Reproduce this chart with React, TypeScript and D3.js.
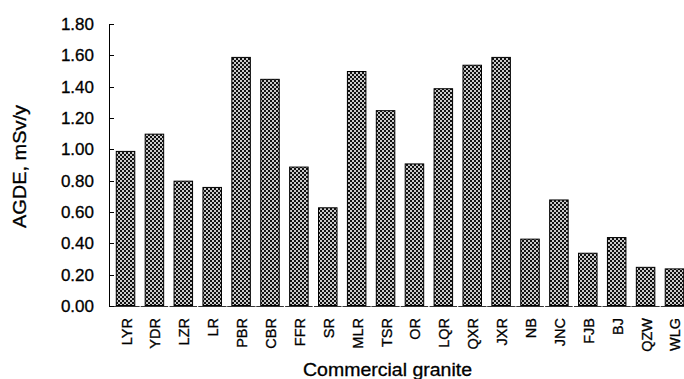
import React from "react";
import * as d3 from "d3";

const categories = ["LYR","YDR","LZR","LR","PBR","CBR","FFR","SR","MLR","TSR","OR","LQR","QXR","JXR","NB","JNC","FJB","BJ","QZW","WLG"];
const values = [0.99,1.10,0.80,0.76,1.59,1.45,0.89,0.63,1.50,1.25,0.91,1.39,1.54,1.59,0.43,0.68,0.34,0.44,0.25,0.24];
const yTicks = [0,0.2,0.4,0.6,0.8,1.0,1.2,1.4,1.6,1.8];
const yTitle = "AGDE, mSv/y";
const xTitle = "Commercial granite";

const W = 684, H = 379;

export default function App() {
  const x = d3.scaleBand<string>().domain(categories).range([110, 690]).paddingInner(0.325).paddingOuter(0.2);
  const y = d3.scaleLinear().domain([0, 1.8]).range([306, 24]);
  const font = "'Liberation Sans', Arial, sans-serif";
  const heavy = { stroke: "#000", strokeWidth: 0.3 };
  return (
    <svg width={W} height={H} style={{ position: "absolute", left: 0, top: 0, background: "#fff" }}>
      <defs>
        <pattern id="chk" width={4} height={4} patternUnits="userSpaceOnUse">
          <rect width={4} height={4} fill="#111" />
          <rect x={0} y={0} width={2} height={2} fill="#fff" opacity={0.78} />
          <rect x={2} y={2} width={2} height={2} fill="#fff" opacity={0.78} />
        </pattern>
      </defs>
      {/* baseline */}
      <line x1={110} x2={W} y1={y(0) + 0.5} y2={y(0) + 0.5} stroke="#999" strokeWidth={1} strokeDasharray="2,2" />
      {categories.map((c) => (
        <line key={"u" + c} x1={(x(c) as number) - 4} x2={(x(c) as number) + x.bandwidth() + 4} y1={y(0) + 0.5} y2={y(0) + 0.5} stroke="#333" strokeWidth={1} />
      ))}
      {/* bars */}
      {categories.map((c, i) => (
        <rect key={c} x={(x(c) as number) + 0.5} y={y(values[i]) + 0.5} width={x.bandwidth() - 1} height={y(0) - y(values[i]) - 1}
          fill="url(#chk)" stroke="#000" strokeWidth={1} />
      ))}
      {/* y axis */}
      <line x1={109.5} x2={109.5} y1={y(1.8)} y2={y(0) + 1} stroke="#000" strokeWidth={1} />
      {yTicks.map((t) => (
        <g key={t}>
          <line x1={109.5} x2={114} y1={Math.round(y(t)) + 0.5} y2={Math.round(y(t)) + 0.5} stroke="#000" strokeWidth={1} />
          <text x={94} y={y(t)} dy="0.36em" textAnchor="end" fontFamily={font} fontSize={17} fill="#000" {...heavy}>{t.toFixed(2)}</text>
        </g>
      ))}
      {/* x labels */}
      {categories.map((c) => (
        <text key={"l" + c} transform={`translate(${(x(c) as number) + x.bandwidth() / 2 + 6},318) rotate(-90)`}
          textAnchor="end" fontFamily={font} fontSize={14.5} fill="#000" {...heavy}>{c}</text>
      ))}
      {/* titles */}
      <text transform="translate(26,166.5) rotate(-90)" textAnchor="middle" fontFamily={font} fontSize={17.5}
        textLength={123} lengthAdjust="spacingAndGlyphs" fill="#000" {...heavy}>{yTitle}</text>
      <text x={387.5} y={376} textAnchor="middle" fontFamily={font} fontSize={17.5}
        textLength={169} lengthAdjust="spacingAndGlyphs" fill="#000" {...heavy}>{xTitle}</text>
    </svg>
  );
}
